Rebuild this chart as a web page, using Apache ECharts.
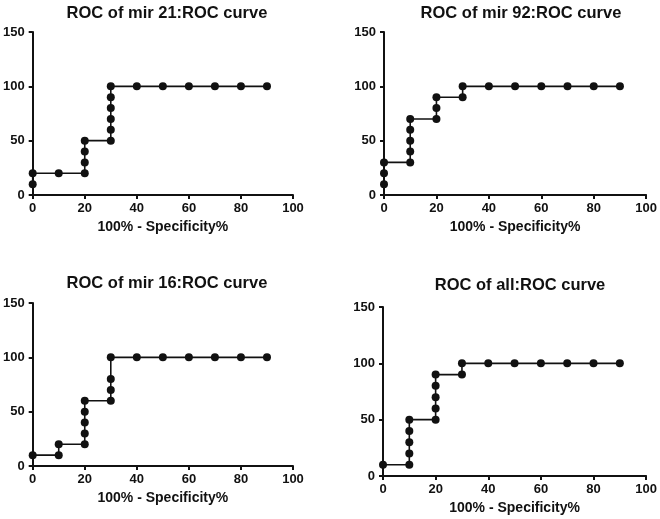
<!DOCTYPE html>
<html>
<head>
<meta charset="utf-8">
<script src="https://cdn.jsdelivr.net/npm/echarts@6/dist/echarts.min.js"></script>
<style>html,body{margin:0;padding:0;background:#fff;}#c{width:660px;height:519px;}</style>
</head>
<body>
<div id="c"></div>
<script>
var titles = ['ROC of mir 21:ROC curve', 'ROC of mir 92:ROC curve', 'ROC of mir 16:ROC curve', 'ROC of all:ROC curve'];
var xName = '100% - Specificity%';
var xTicks = [0, 20, 40, 60, 80, 100];
var yTicks = [0, 50, 100, 150];

var mir21X = [0, 0, 10, 20, 20, 20, 20, 30, 30, 30, 30, 30, 30, 40, 50, 60, 70, 80, 90];
var mir21Y = [10, 20, 20, 20, 30, 40, 50, 50, 60, 70, 80, 90, 100, 100, 100, 100, 100, 100, 100];

var mir92X = [0, 0, 0, 10, 10, 10, 10, 10, 20, 20, 20, 30, 30, 40, 50, 60, 70, 80, 90];
var mir92Y = [10, 20, 30, 30, 40, 50, 60, 70, 70, 80, 90, 90, 100, 100, 100, 100, 100, 100, 100];

var mir16X = [0, 10, 10, 20, 20, 20, 20, 20, 30, 30, 30, 30, 40, 50, 60, 70, 80, 90];
var mir16Y = [10, 10, 20, 20, 30, 40, 50, 60, 60, 70, 80, 100, 100, 100, 100, 100, 100, 100];

var allX = [0, 10, 10, 10, 10, 10, 20, 20, 20, 20, 20, 30, 30, 40, 50, 60, 70, 80, 90];
var allY = [10, 10, 20, 30, 40, 50, 50, 60, 70, 80, 90, 90, 100, 100, 100, 100, 100, 100, 100];

var seriesX = [mir21X, mir92X, mir16X, allX];
var seriesY = [mir21Y, mir92Y, mir16Y, allY];

function zip(a, b) { return a.map(function (v, i) { return [v, b[i]]; }); }

var grids = [
  {left: 31, top: 32, width: 262, height: 163},
  {left: 384, top: 32, width: 264, height: 163},
  {left: 31, top: 303, width: 262, height: 163},
  {left: 383, top: 307, width: 264, height: 169}
];
var titlePos = [
  {left: 162, top: 0},
  {left: 516, top: 0},
  {left: 162, top: 270},
  {left: 515, top: 272}
];
var font = 'Liberation Sans, Arial, sans-serif';
var axisLine = {show: true, onZero: false, lineStyle: {color: '#111', width: 2}};
var axisTick = {show: true, inside: false, length: 4, lineStyle: {color: '#111', width: 2}};

var option = {
  animation: false,
  backgroundColor: '#fff',
  title: titles.map(function (t, i) {
    return {text: t, left: titlePos[i].left, top: titlePos[i].top, textAlign: 'center',
      textStyle: {fontFamily: font, fontWeight: 'bold', fontSize: 16.5, color: '#111'}};
  }),
  grid: grids,
  xAxis: grids.map(function (g, i) {
    return {type: 'value', gridIndex: i, min: xTicks[0], max: xTicks[xTicks.length - 1], interval: 20,
      name: xName, nameLocation: 'middle', nameGap: 25,
      nameTextStyle: {fontFamily: font, fontWeight: 'bold', fontSize: 14, color: '#111'},
      axisLine: axisLine, axisTick: axisTick, splitLine: {show: false},
      axisLabel: {fontFamily: font, fontWeight: 'bold', fontSize: 13, color: '#111', margin: 7}};
  }),
  yAxis: grids.map(function (g, i) {
    return {type: 'value', gridIndex: i, min: yTicks[0], max: yTicks[yTicks.length - 1], interval: 50,
      axisLine: axisLine, axisTick: axisTick, splitLine: {show: false},
      axisLabel: {fontFamily: font, fontWeight: 'bold', fontSize: 13, color: '#111', margin: 8}};
  }),
  series: seriesX.map(function (xs, i) {
    return {type: 'line', xAxisIndex: i, yAxisIndex: i, data: zip(xs, seriesY[i]),
      symbol: 'circle', symbolSize: 8, showAllSymbol: true,
      lineStyle: {color: '#111', width: 1.6}, itemStyle: {color: '#111'}};
  })
};
echarts.init(document.getElementById('c')).setOption(option);
</script>
</body>
</html>
